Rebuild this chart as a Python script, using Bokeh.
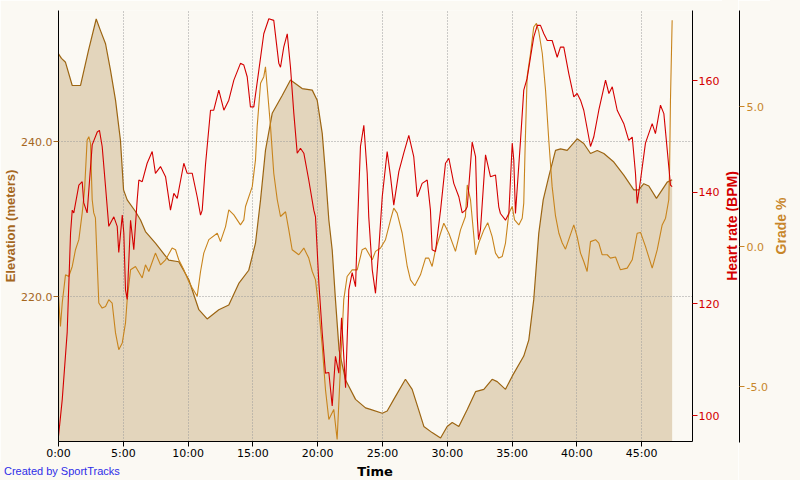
from bokeh.plotting import figure
from bokeh.layouts import column, row
from bokeh.models import Range1d, LinearAxis, FixedTicker, PrintfTickFormatter, Div
from bokeh.embed import file_html
from bokeh.resources import INLINE

# ---- data (time in minutes) ----
time_ele = [0.0, 0.23, 0.54, 1.06, 1.70, 2.31, 2.91, 3.24, 3.63, 4.01, 4.40, 4.78, 5.02, 5.30, 5.94,
            6.33, 6.71, 7.48, 8.51, 9.28, 10.05, 10.83, 11.47, 12.37, 13.14, 13.91, 14.68, 15.20,
            15.59, 15.97, 16.49, 17.26, 17.90, 18.80, 19.58, 19.96, 20.35, 20.60, 20.86, 21.12,
            21.37, 21.65, 22.15, 22.92, 23.69, 24.07, 24.98, 25.36, 25.87, 26.77, 27.29, 27.78,
            28.19, 28.83, 29.48, 29.99, 30.38, 30.89, 31.54, 32.18, 32.82, 33.46, 33.85, 34.49,
            35.01, 35.90, 36.29, 36.67, 37.06, 37.40, 37.83, 38.35, 38.74, 39.25, 40.02, 40.53,
            41.05, 41.57, 42.08, 42.85, 43.62, 44.39, 44.78, 45.16, 45.55, 46.14, 46.97, 47.35]
elevation = [251.4, 250.8, 250.3, 247.3, 247.3, 251.8, 255.9, 254.4, 252.7, 249.3, 245.4, 240.2,
             233.8, 232.5, 231.0, 229.9, 228.4, 226.9, 224.7, 224.5, 222.2, 218.3, 217.1, 218.3,
             218.9, 221.7, 223.4, 226.9, 232.5, 238.9, 243.7, 246.0, 248.0, 246.9, 246.7, 245.4,
             241.1, 235.9, 229.9, 226.0, 219.6, 213.1, 209.2, 206.7, 205.6, 205.4, 204.9, 205.2,
             206.7, 209.3, 208.0, 205.4, 203.2, 202.4, 201.7, 203.2, 203.7, 203.2, 205.4, 207.7,
             208.0, 209.3, 209.0, 208.0, 209.7, 212.3, 214.4, 219.6, 228.2, 232.5, 235.5, 238.9,
             239.1, 238.9, 240.4, 239.8, 238.5, 238.9, 238.5, 237.4, 235.7, 233.8, 233.8, 234.6,
             234.3, 232.7, 234.8, 235.1]

time_hr = [0.0, 0.29, 0.67, 0.93, 1.06, 1.18, 1.57, 1.83, 1.95, 2.21, 2.60, 2.99, 3.16, 3.37, 3.63,
           3.88, 4.27, 4.53, 4.65, 4.92, 5.04, 5.17, 5.30, 5.56, 5.81, 6.07, 6.20, 6.46, 6.84, 7.23,
           7.48, 7.87, 8.26, 8.64, 8.90, 9.16, 9.67, 9.93, 10.32, 10.70, 10.96, 11.09, 11.34, 11.73,
           11.98, 12.37, 12.76, 13.14, 13.53, 14.04, 14.30, 14.56, 14.81, 15.07, 15.46, 15.84,
           16.23, 16.61, 17.00, 17.13, 17.38, 17.65, 17.90, 18.16, 18.42, 18.67, 18.93, 19.31,
           19.70, 19.83, 20.09, 20.35, 20.60, 20.86, 21.12, 21.37, 21.63, 21.84, 22.15, 22.40,
           22.66, 22.92, 23.05, 23.30, 23.56, 23.82, 23.94, 24.21, 24.46, 24.71, 24.98, 25.36,
           25.62, 25.87, 26.26, 26.64, 27.03, 27.41, 27.68, 28.06, 28.45, 28.70, 28.83, 29.09,
           29.48, 29.86, 30.12, 30.50, 30.89, 31.15, 31.40, 31.54, 31.92, 32.18, 32.31, 32.41,
           32.56, 32.95, 33.33, 33.72, 33.97, 34.10, 34.49, 34.75, 35.01, 35.13, 35.26, 35.65,
           35.90, 36.16, 36.42, 36.67, 36.94, 37.19, 37.45, 37.71, 38.09, 38.48, 38.73, 38.99,
           39.37, 39.76, 40.02, 40.28, 40.53, 41.05, 41.30, 41.69, 42.21, 42.47, 42.73, 43.11,
           43.62, 44.00, 44.27, 44.52, 44.65, 44.91, 45.29, 45.81, 46.06, 46.45, 46.71, 46.97,
           47.22, 47.35]
heart_rate = [96.3, 102.9, 114.9, 132.7, 136.8, 136.3, 141.3, 141.9, 138.1, 136.3, 148.5, 150.8,
              151.1, 148.2, 141.0, 133.9, 135.6, 133.9, 129.2, 135.9, 132.7, 122.5, 120.8, 135.0,
              129.7, 138.6, 142.2, 141.9, 145.2, 147.3, 143.4, 144.6, 142.8, 136.8, 139.8, 138.9,
              145.2, 143.4, 143.4, 139.2, 135.9, 136.8, 144.9, 154.7, 154.7, 158.3, 154.7, 156.5,
              160.1, 163.1, 162.8, 160.7, 155.3, 155.3, 161.9, 168.4, 171.1, 170.8, 163.1, 162.4,
              166.0, 168.4, 162.4, 154.1, 147.0, 147.9, 147.0, 142.2, 136.8, 135.6, 123.7, 114.8,
              107.6, 107.7, 101.7, 110.6, 107.6, 117.5, 105.0, 122.5, 125.6, 123.1, 132.7, 148.2,
              152.0, 143.4, 135.6, 126.1, 121.9, 129.7, 139.2, 147.3, 142.8, 137.7, 143.7, 147.0,
              150.2, 146.4, 139.2, 141.6, 142.2, 136.8, 129.7, 129.4, 136.8, 145.2, 146.1, 141.6,
              139.2, 136.3, 136.8, 137.4, 149.0, 146.4, 135.6, 131.5, 133.3, 146.7, 142.8, 143.1,
              137.4, 136.2, 135.0, 136.2, 148.8, 145.8, 136.2, 149.3, 158.3, 160.4, 164.2, 167.8,
              169.9, 169.9, 168.4, 167.2, 167.2, 164.2, 166.0, 166.0, 161.3, 157.1, 157.7, 156.5,
              154.7, 148.2, 149.9, 154.7, 160.1, 157.7, 158.9, 154.7, 152.3, 149.3, 149.9, 143.4,
              138.0, 142.2, 148.8, 152.3, 150.5, 155.6, 154.1, 147.6, 141.3, 141.0]

time_grade = [0.0, 0.15, 0.29, 0.54, 0.79, 1.06, 1.31, 1.57, 1.83, 2.01, 2.21, 2.34, 2.47, 2.60,
              2.72, 2.85, 3.11, 3.37, 3.63, 3.88, 4.14, 4.40, 4.65, 4.92, 5.17, 5.30, 5.56, 5.94,
              6.46, 6.71, 6.97, 7.48, 7.87, 8.26, 8.77, 9.03, 9.28, 9.67, 10.05, 10.32, 10.70,
              10.96, 11.21, 11.60, 12.25, 12.50, 12.89, 13.14, 13.53, 14.04, 14.30, 14.43, 14.95,
              15.20, 15.33, 15.59, 15.84, 15.97, 16.10, 16.36, 16.61, 16.88, 17.13, 17.52, 17.77,
              18.03, 18.54, 18.93, 19.31, 19.58, 19.83, 20.09, 20.35, 20.60, 20.86, 21.24, 21.50,
              21.76, 22.01, 22.27, 22.66, 23.05, 23.43, 23.69, 24.21, 24.46, 24.85, 25.23, 25.62,
              25.87, 26.13, 26.52, 26.91, 27.16, 27.49, 27.93, 28.32, 28.57, 28.83, 29.09, 29.48,
              29.73, 30.12, 30.63, 31.02, 31.40, 31.54, 31.79, 32.18, 32.43, 32.82, 33.12, 33.46,
              33.72, 33.97, 34.24, 34.49, 34.75, 35.01, 35.19, 35.52, 35.78, 35.90, 36.00, 36.16,
              36.42, 36.67, 36.88, 37.06, 37.33, 37.58, 37.83, 38.09, 38.35, 38.61, 38.87, 39.12,
              39.37, 39.76, 40.02, 40.28, 40.53, 40.79, 41.05, 41.44, 41.69, 41.95, 42.34, 42.59,
              42.98, 43.36, 43.88, 44.27, 44.65, 44.91, 45.29, 45.81, 46.20, 46.58, 46.84, 47.09,
              47.15, 47.22, 47.35]
grade = [-1.80, -2.88, -2.03, -1.03, -1.09, -0.73, -0.13, 0.23, 1.19, 2.01, 3.80, 3.92, 3.68, 1.66,
         1.19, 1.01, -2.04, -2.22, -2.16, -1.92, -2.04, -3.11, -3.71, -3.47, -2.75, -1.92, -0.85,
         -0.73, -1.14, -0.67, -0.91, -0.25, -0.67, -0.49, -0.07, -0.13, -0.49, -0.85, -1.27, -1.50,
         -1.80, -0.91, -0.25, 0.23, 0.46, 0.16, 0.70, 1.30, 1.12, 0.76, 0.94, 1.42, 2.13, 3.09,
         4.28, 5.83, 6.07, 6.42, 5.71, 4.28, 2.61, 1.66, 1.06, 1.23, 0.58, -0.13, -0.31, -0.07,
         -0.43, -0.91, -1.21, -2.28, -3.59, -5.14, -6.21, -5.85, -6.93, -4.31, -1.92, -1.09, -0.85,
         -0.85, -0.13, -0.07, -0.49, -0.19, -0.07, 0.23, 0.94, 1.36, 1.18, 0.46, -0.73, -1.21,
         -1.42, -1.03, -0.43, -0.43, -0.73, -0.13, 0.46, 0.82, 0.46, -0.19, 0.58, 1.06, 2.19, 1.66,
         -0.31, 0.11, 0.58, 0.84, 0.34, -0.25, -0.43, -0.37, 0.11, 1.18, 1.42, 0.94, 0.76, 1.00,
         1.54, 3.44, 6.07, 6.90, 7.85, 7.98, 7.68, 6.90, 5.59, 3.80, 2.13, 1.08, 0.46, 0.11, -0.11,
         0.23, 0.76, 0.34, -0.25, -0.55, -0.91, 0.16, 0.23, 0.11, -0.31, -0.31, -0.43, -0.39, -0.85,
         -0.79, -0.49, 0.46, 0.49, -0.01, -0.79, -0.13, 0.76, 1.00, 1.66, 2.73, 5.23, 8.09]

time_ticks = [0, 5, 10, 15, 20, 25, 30, 35, 40, 45]
time_tick_labels = ["0:00", "5:00", "10:00", "15:00", "20:00", "25:00", "30:00", "35:00", "40:00", "45:00"]
elevation_ticks = [220, 240]
hr_ticks = [100, 120, 140, 160]
grade_ticks = [-5, 0, 5]

X_RANGE = (0, 48.92)
ELE_RANGE = (201.25, 257.0)
HR_RANGE = (95.35, 172.57)
GRADE_RANGE = (-7.0, 8.44)

BG = "#FBF9F3"
FILL = "#E3D5BC"
ELE_LINE = "#9C6512"
GRADE_COL = "#C8841C"
HR_COL = "#D40000"
ELE_TXT = "#A5671E"
GRADE_TXT = "#C8862A"
TICK_FONT = "DejaVu Sans"
LABEL_FONT = "Liberation Sans"

# ---------------- main chart (elevation + heart rate axes) ----------------
p = figure(width=722, height=462, output_backend="svg", toolbar_location=None,
           x_range=Range1d(*X_RANGE), y_range=Range1d(*ELE_RANGE),
           min_border_left=58, min_border_right=27, min_border_top=10, min_border_bottom=20,
           background_fill_color=BG, border_fill_color=BG, outline_line_color=None)

p.extra_y_ranges = {"hr": Range1d(*HR_RANGE), "grade": Range1d(*GRADE_RANGE)}

p.varea(x=time_ele, y1=ELE_RANGE[0], y2=elevation, fill_color=FILL, level="underlay")
p.line(time_ele, elevation, line_color=ELE_LINE, line_width=1.2)
p.line(time_grade, grade, line_color=GRADE_COL, line_width=1.1, y_range_name="grade")
p.line(time_hr, heart_rate, line_color=HR_COL, line_width=1.1, y_range_name="hr")

xa = p.xaxis[0]
xa.ticker = FixedTicker(ticks=time_ticks)
xa.major_label_overrides = {t: l for t, l in zip(time_ticks, time_tick_labels)}
xa.major_label_text_font = TICK_FONT
xa.major_label_text_font_size = "11px"
xa.major_label_text_color = "#000000"
xa.major_label_standoff = 0
xa.major_tick_out = 5
xa.major_tick_in = 0
xa.minor_tick_line_color = None
xa.axis_line_color = "#000000"
xa.major_tick_line_color = "#000000"

ya = p.yaxis[0]
ya.ticker = FixedTicker(ticks=elevation_ticks)
ya.formatter = PrintfTickFormatter(format="%.1f")
ya.axis_label = "Elevation (meters)"
ya.axis_label_text_font = LABEL_FONT
ya.axis_label_text_font_size = "13px"
ya.axis_label_text_font_style = "bold"
ya.axis_label_text_color = ELE_TXT
ya.axis_label_standoff = 0
ya.major_label_text_font = TICK_FONT
ya.major_label_text_font_size = "11px"
ya.major_label_text_color = ELE_TXT
ya.major_label_standoff = 1
ya.major_tick_out = 5
ya.major_tick_in = 0
ya.minor_tick_line_color = None
ya.axis_line_color = "#000000"
ya.major_tick_line_color = ELE_TXT

hra = LinearAxis(y_range_name="hr", ticker=FixedTicker(ticks=hr_ticks))
hra.major_label_text_font = TICK_FONT
hra.major_label_text_font_size = "11px"
hra.major_label_text_color = HR_COL
hra.major_label_standoff = 1
hra.major_tick_out = 5
hra.major_tick_in = 0
hra.minor_tick_line_color = None
hra.axis_line_color = "#000000"
hra.major_tick_line_color = HR_COL
p.add_layout(hra, "right")

p.xgrid.ticker = FixedTicker(ticks=time_ticks)
p.ygrid.ticker = FixedTicker(ticks=elevation_ticks)
for g in (p.xgrid[0], p.ygrid[0]):
    g.grid_line_color = "#9A9A9A"
    g.grid_line_dash = "1 2"
    g.grid_line_width = 1

# ---------------- grade axis (separate narrow panel sharing the grade range) ----------------
ga = figure(width=32, height=480, output_backend="svg", toolbar_location=None,
            x_range=Range1d(0, 1), y_range=p.extra_y_ranges["grade"],
            x_axis_type=None, y_axis_location="right",
            min_border_left=0, min_border_right=31, min_border_top=10, min_border_bottom=38,
            background_fill_color=BG, border_fill_color=BG, outline_line_color=None)
gra = ga.yaxis[0]
gra.ticker = FixedTicker(ticks=grade_ticks)
gra.formatter = PrintfTickFormatter(format="%.1f")
gra.major_label_text_font = TICK_FONT
gra.major_label_text_font_size = "11px"
gra.major_label_text_color = GRADE_TXT
gra.major_label_standoff = 2
gra.major_tick_out = 5
gra.major_tick_in = 0
gra.minor_tick_line_color = None
gra.axis_line_color = "#000000"
gra.major_tick_line_color = GRADE_TXT
ga.grid.visible = False

# ---------------- text strips (rotated axis titles, credit line, time title) ----------------
def vlabel(text, color, width, cx, size):
    html = ('<div style="position:relative;width:%dpx;height:480px;">'
            '<span style="position:absolute;left:%dpx;top:226px;'
            'transform:translate(-50%%,-50%%) rotate(-90deg);white-space:nowrap;'
            "font-family:'%s';font-weight:bold;font-size:%dpx;line-height:%dpx;color:%s\">%s</span></div>"
            % (width, cx, LABEL_FONT, size, size + 2, color, text))
    return Div(text=html, width=width, height=480, margin=0,
               styles={"background-color": BG})

hr_title = vlabel("Heart rate (BPM)", HR_COL, 16, 10, 14)
grade_title = vlabel("Grade %", GRADE_TXT, 30, 11, 14)

bottom_html = ('<div style="position:relative;width:722px;height:18px;">'
               '<span style="position:absolute;left:4px;top:3px;white-space:nowrap;'
               "font-family:'%s';font-size:11px;line-height:13px;color:#2E2EE8\">Created by SportTracks</span>"
               '<span style="position:absolute;left:375px;top:2px;transform:translateX(-50%%);white-space:nowrap;'
               "font-family:'%s';font-weight:bold;font-size:13px;line-height:15px;color:#000000\">Time</span>"
               '</div>' % (LABEL_FONT, TICK_FONT))
bottom = Div(text=bottom_html, width=722, height=18, margin=0, styles={"background-color": BG})

layout = row(column(p, bottom, spacing=0), hr_title, ga, grade_title, spacing=0)
open("out.html", "w").write(file_html(layout, INLINE))
